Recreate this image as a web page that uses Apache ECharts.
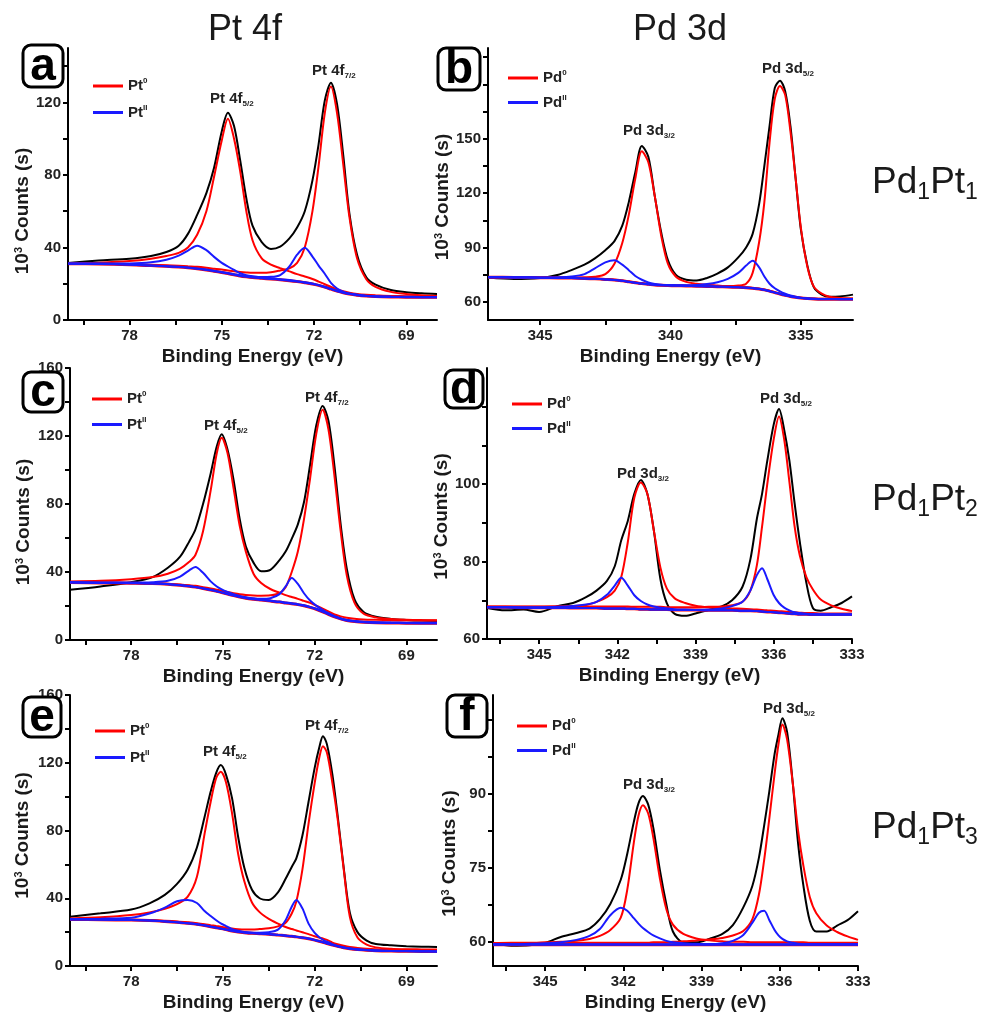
<!DOCTYPE html>
<html><head><meta charset="utf-8">
<script src="https://cdn.jsdelivr.net/npm/echarts@6/dist/echarts.min.js"></script>
<style>html,body{margin:0;padding:0;background:#fff}#c{width:987px;height:1013px}</style>
</head><body><div id="c"></div>
<script>
// ---------- Panel a : Pt 4f, Pd1Pt1 ----------
const aX      = [80,79,78,77.3,76.8,76.4,76.1,75.8,75.5,75.25,75.0,74.8,74.6,74.4,74.2,74.0,73.7,73.4,73.1,72.8,72.55,72.3,72.05,71.85,71.65,71.45,71.25,71.05,70.85,70.6,70.3,70.0,69.5,69.0,68.5,68.0];
const aBlack  = [31.5,32.8,33.8,35.3,37.5,41,47.5,58,70,84,104,114.3,107,88,67,52,43,39.2,40.5,45,51,60,77,97,121,130.9,119,91,59,36,23.5,19.5,16.5,15.3,14.7,14.3];
const aRed1   = [31.2,31.6,32.5,33.8,35.3,37,40,47,60,79,99,111,100,82,60,44,34,30.5,28.6,26.8,25.3,24,22.6,21.2,19.7,18.3,16.9,15.9,15.1,14.4,13.9,13.6,13.3,13.1,13.0,12.9];
const aRed2   = [31.1,31.0,30.8,30.5,30.2,29.9,29.6,29.3,28.8,28.3,27.8,27.3,26.9,26.5,26.2,26.0,26.0,26.3,27.3,28.5,31.5,40,60,85,114,128.7,114,86,57,34,22.5,18.3,15.5,14.3,13.6,13.3];
const aBlue1  = [31.1,31.1,31.2,31.8,33.2,35.5,38.3,41,38.5,34.8,31.5,29.5,27.6,25.8,24.7,24.1,23.5,23.0,22.5,22.0,21.4,20.8,20.1,19.3,18.3,17.2,16.1,15.2,14.5,13.9,13.4,13.1,12.9,12.8,12.7,12.7];
const aBlue2  = [31.1,31.0,30.6,30.1,29.7,29.3,28.9,28.4,27.8,27.1,26.5,25.9,25.3,24.7,24.2,23.9,23.7,23.8,24.8,29.5,36,39.8,35,30,25.5,20.5,17.4,15.6,14.6,13.9,13.3,13.0,12.8,12.7,12.6,12.6];
const aBg     = [31.0,30.9,30.5,30.0,29.6,29.2,28.8,28.3,27.6,26.9,26.2,25.6,25.0,24.3,23.8,23.4,23.0,22.6,22.2,21.7,21.2,20.6,19.9,19.1,18.1,17.0,15.9,15.0,14.3,13.7,13.2,12.9,12.7,12.6,12.5,12.5];

// ---------- Panel b : Pd 3d, Pd1Pt1 ----------
const bX      = [347,346,345,344.3,343.8,343.3,342.9,342.5,342.15,341.85,341.6,341.35,341.1,340.85,340.6,340.35,340.1,339.8,339.4,339.0,338.6,338.2,337.8,337.4,337.1,336.85,336.6,336.4,336.2,336.0,335.8,335.6,335.4,335.2,335.0,334.75,334.5,334.2,333.9,333.5,333.0];
const bBlack  = [73.4,72.6,73.2,75,77.5,80.5,84,88.5,93.5,102,115,131.5,146,140,118,97.8,83,75,72.2,71.8,73.2,75.6,79,84.5,90,97.5,114,135,157,178,182,176,157,128,100,80,68,64,62.8,63,64];
const bRed1   = [73.6,73.6,73.5,73.5,73.5,73.6,73.9,75.3,81,92.5,108,128,143,137,118,96,81,74,71,70,69.4,69,68.6,68.3,68,67.7,67.3,66.8,66.1,65.3,64.5,63.8,63.2,62.7,62.3,62,61.8,61.7,61.7,61.7,61.7];
const bRed2   = [73.6,73.5,73.4,73.3,73.2,73.0,72.8,72.5,72.2,71.7,71.2,70.7,70.2,69.8,69.4,69.2,69.1,69.0,68.9,68.8,68.7,68.7,68.7,69.0,70.0,76,93,115,148,172,179,174,154,128,101,79.4,68.3,64.5,62.8,62.2,61.8];
const bBlue1  = [73.6,73.6,73.5,73.6,74.0,75.3,78.5,81.8,83,80.5,77.5,74.3,72.2,70.7,69.9,69.5,69.3,69.1,68.9,68.7,68.6,68.5,68.3,68.1,67.9,67.6,67.2,66.7,66.0,65.2,64.4,63.7,63.1,62.6,62.2,61.9,61.7,61.6,61.6,61.6,61.6];
const bBlue2  = [73.6,73.5,73.3,73.2,73.1,72.9,72.7,72.4,72.1,71.6,71.1,70.6,70.1,69.7,69.4,69.2,69.1,69.1,69.1,69.3,69.8,70.8,72.7,76,80,82.7,79,74,70,67.5,65.8,64.5,63.5,62.8,62.3,61.9,61.7,61.6,61.6,61.5,61.5];
const bBg     = [73.6,73.5,73.3,73.2,73.1,72.9,72.7,72.4,72.1,71.6,71.1,70.6,70.1,69.7,69.3,69.1,69.0,68.9,68.8,68.6,68.5,68.4,68.2,68.0,67.8,67.5,67.1,66.6,65.9,65.1,64.3,63.6,63.0,62.5,62.1,61.8,61.6,61.5,61.5,61.5,61.5];

// ---------- Panel c : Pt 4f, Pd1Pt2 ----------
const cX      = [80,79,78,77.3,76.8,76.4,76.1,75.9,75.65,75.4,75.2,75.04,74.85,74.65,74.45,74.25,74.0,73.75,73.45,73.15,72.95,72.75,72.55,72.35,72.15,71.95,71.74,71.55,71.35,71.15,70.95,70.7,70.4,70.0,69.5,69.0,68.5,68.0];
const cBlack  = [29.5,31.5,34,37,42.5,49,58,65,80,98,114,121,112,94,71,55,45.5,40.5,41.3,47,52,59.5,68,81,103,126,137.7,129,102,68,42,24,16.5,13.7,12.4,11.8,11.4,11.2];
const cRed1   = [34.4,34.8,35.8,37,39,42,46,50,64,88,110,119,110,89,67,52,39,33.5,30,27.8,26.4,25.3,24.2,23,21.8,20.2,18.5,16.8,15,13.9,13.1,12.5,12.1,11.9,11.7,11.6,11.5,11.5];
const cRed2   = [34.0,33.8,33.6,33.4,33.1,32.6,32.2,31.9,31.1,30.3,29.6,29.0,28.2,27.5,26.9,26.5,26.2,26.1,26.3,27.5,31,40,52,71,95,121,135.4,124,96,64,38,22,15.5,13.3,12.3,11.9,11.7,11.6];
const cBlue1  = [33.9,33.8,33.8,34.0,34.8,37.3,41,42.9,39.5,34.5,31.5,29.8,28.3,27.0,25.9,25.1,24.4,23.8,23.2,22.6,22.1,21.6,21.1,20.4,19.5,18.4,16.9,15.4,13.9,12.7,11.8,11.2,10.7,10.4,10.3,10.2,10.1,10.1];
const cBlue2  = [33.9,33.7,33.5,33.3,32.9,32.3,31.7,31.2,30.4,29.5,28.7,28.0,27.1,26.3,25.5,24.9,24.4,24.2,24.6,27,31.5,36.4,33,27.5,23.2,20.2,17.8,15.8,14,12.7,11.8,11.1,10.6,10.3,10.1,10.0,9.9,9.9];
const cBg     = [33.8,33.6,33.4,33.2,32.8,32.2,31.6,31.1,30.3,29.4,28.6,27.9,27.0,26.1,25.3,24.6,24.0,23.5,22.9,22.3,21.8,21.3,20.8,20.1,19.2,18.1,16.6,15.1,13.6,12.4,11.5,10.9,10.4,10.1,10.0,9.9,9.8,9.8];

// ---------- Panel d : Pd 3d, Pd1Pt2 ----------
const dX      = [347,346.3,345.6,345,344.3,343.7,343.2,342.8,342.4,342.1,341.85,341.6,341.35,341.1,340.85,340.6,340.35,340.1,339.8,339.4,339.0,338.5,338.0,337.6,337.2,336.9,336.65,336.45,336.25,336.0,335.8,335.6,335.4,335.2,335.0,334.75,334.5,334.2,333.8,333.4,333.0];
const dBlack  = [68,67.4,67.6,67,68.5,69.3,70.8,72.5,75,78.8,85.5,90.5,97.5,101.1,97.5,88,75.5,69.2,66.5,66,66.6,67.5,68.4,70,73.5,80.5,91,97.5,106,115.5,119.4,114,106,95,85,74.5,68,67.3,68.2,69.3,71];
const dRed1   = [68.3,68.3,68.3,68.3,68.4,68.5,68.8,69.6,70.8,72.5,76,85,96.5,100.4,97.5,88,78.5,73,70.5,69.3,68.6,68.2,68.0,67.9,67.8,67.7,67.6,67.5,67.4,67.3,67.2,67.1,67.0,66.9,66.8,66.7,66.7,66.6,66.6,66.6,66.6];
const dRed2   = [68.4,68.4,68.4,68.4,68.4,68.4,68.4,68.4,68.4,68.4,68.4,68.4,68.3,68.3,68.3,68.3,68.3,68.2,68.2,68.2,68.2,68.3,68.4,68.7,69.6,72.5,79,89,100,111.7,117.5,111.5,100.5,89,81.5,76,72.8,70.2,68.7,67.8,67.2];
const dBlue1  = [68.2,68.2,68.2,68.2,68.3,68.5,68.9,69.6,71.4,73.8,75.8,73.8,71.3,69.8,68.9,68.4,68.1,67.9,67.7,67.6,67.5,67.4,67.4,67.4,67.3,67.3,67.2,67.1,67.0,66.9,66.8,66.7,66.6,66.5,66.4,66.4,66.3,66.3,66.3,66.3,66.3];
const dBlue2  = [68.2,68.2,68.1,68.1,68.1,68.0,68.0,68.0,67.9,67.9,67.9,67.8,67.8,67.7,67.7,67.6,67.6,67.6,67.5,67.5,67.5,67.6,67.9,68.5,69.6,72.5,76.5,78.3,75.5,71.3,69.3,68.1,67.4,66.9,66.7,66.5,66.4,66.3,66.3,66.3,66.3];
const dBg     = [68.2,68.2,68.1,68.1,68.1,68.0,68.0,68.0,67.9,67.9,67.9,67.8,67.8,67.7,67.7,67.6,67.6,67.6,67.5,67.5,67.5,67.4,67.4,67.4,67.3,67.3,67.2,67.1,67.0,66.9,66.8,66.7,66.6,66.5,66.4,66.4,66.3,66.3,66.3,66.3,66.3];

// ---------- Panel e : Pt 4f, Pd1Pt3 ----------
const eX      = [80,79,78,77.4,76.9,76.5,76.15,75.85,75.6,75.4,75.22,75.07,74.9,74.7,74.5,74.3,74.05,73.8,73.5,73.2,72.95,72.75,72.6,72.4,72.2,72.0,71.85,71.73,71.6,71.42,71.25,71.05,70.85,70.6,70.3,70.0,69.5,69.0,68.5,68.0];
const eBlack  = [29.1,31.1,33.3,37,42,48.5,57,70,88,103,114,118.6,113,99,76,58,45,40,39,43.5,51.5,58.5,63.5,77,97,117,129,135.7,131,113,89,58,31.5,20,15,13,12.2,11.7,11.4,11.2];
const eRed1   = [28.1,28.8,30.1,31.6,33.8,36.5,41,52.7,78,97,111,114.7,108.5,90,66,50,37.5,31.8,27.8,25,23,21.8,21,19.9,18.8,17.6,16.8,16.2,15.4,13.8,12.8,11.9,11.2,10.7,10.2,9.9,9.7,9.6,9.4,9.4];
const eRed2   = [27.6,27.5,27.3,27.1,26.7,26.3,25.8,25.3,24.7,24.1,23.6,23.2,22.7,22.1,21.7,21.5,21.5,21.8,22.3,23.4,25.5,31,38,57,84,108,123,129.8,126,108,87,57,29,16.8,12.6,11,10.2,9.9,9.8,9.7];
const eBlue1  = [27.6,27.9,28.5,31,34.5,38.2,39,37.2,32.5,29.5,27,25.2,23.6,21.8,20.8,20.1,19.6,19.3,18.9,18.4,18.0,17.6,17.3,16.8,16.2,15.4,14.7,14.1,13.4,12.5,11.7,10.9,10.3,9.8,9.4,9.1,8.9,8.8,8.7,8.6];
const eBlue2  = [27.6,27.4,27.2,26.9,26.4,25.9,25.3,24.7,24.0,23.3,22.7,22.2,21.6,20.9,20.3,20.0,19.7,19.7,20.0,21.5,27,35,39,34,25,19.5,17,15.5,14.3,12.9,11.9,11.0,10.4,9.9,9.4,9.1,8.9,8.8,8.7,8.6];
const eBg     = [27.5,27.3,27.1,26.8,26.3,25.8,25.2,24.6,23.9,23.2,22.6,22.1,21.5,20.7,20.1,19.7,19.3,19.1,18.8,18.3,17.9,17.5,17.2,16.7,16.1,15.3,14.6,14.0,13.3,12.4,11.6,10.8,10.2,9.7,9.3,9.0,8.8,8.7,8.6,8.5];

// ---------- Panel f : Pd 3d, Pd1Pt3 ----------
const fX      = [347,346.3,345.6,345,344.4,343.8,343.3,342.9,342.5,342.1,341.85,341.6,341.42,341.25,341.05,340.85,340.6,340.35,340.1,339.7,339.2,338.7,338.2,337.8,337.4,337.05,336.8,336.6,336.4,336.2,336.05,335.9,335.72,335.5,335.3,335.1,334.85,334.6,334.2,333.8,333.4,333.0];
const fBlack  = [59.6,59.1,59.2,59.7,60.9,61.7,62.6,64.5,67.6,72.5,77.8,84.2,88,89.5,87.8,83,74.5,67.5,62,59.8,59.8,60.5,61.5,63.3,66.9,71.3,77,83.5,90.5,98,102,105.3,102.5,92,80,71.5,64.2,62,62,63.2,64.3,66.1];
const fRed1   = [59.6,59.7,59.7,59.8,59.9,60.1,60.5,61.1,62.3,64.8,70.5,80,85.5,87.6,86,81,72.8,66.5,63.4,61.5,60.6,60.2,60.0,59.9,59.9,59.8,59.8,59.8,59.8,59.8,59.8,59.8,59.8,59.8,59.8,59.8,59.7,59.7,59.7,59.7,59.7,59.7];
const fRed2   = [59.6,59.6,59.6,59.6,59.6,59.7,59.7,59.7,59.7,59.7,59.7,59.7,59.7,59.7,59.7,59.8,59.8,59.8,59.9,60.0,60.2,60.4,60.7,61.2,62.1,64.5,69.5,76.5,85,94,100,104,101,92,82.5,75.5,69,65.7,63.2,61.9,61.0,60.3];
const fBlue1  = [59.4,59.4,59.5,59.6,59.8,60.3,61.1,62.5,65.3,66.8,66.2,64.7,63.6,62.7,61.9,61.2,60.6,60.1,59.8,59.6,59.5,59.4,59.4,59.4,59.4,59.4,59.4,59.4,59.4,59.4,59.4,59.4,59.4,59.4,59.4,59.4,59.4,59.4,59.4,59.4,59.4,59.4];
const fBlue2  = [59.4,59.4,59.4,59.4,59.4,59.4,59.4,59.4,59.4,59.4,59.4,59.4,59.4,59.4,59.4,59.4,59.4,59.4,59.4,59.4,59.4,59.4,59.6,60.1,61.3,63.8,65.8,66.2,64.3,62.3,61.2,60.5,60.0,59.7,59.5,59.4,59.4,59.4,59.4,59.4,59.4,59.4];
const fBg     = [59.3,59.3,59.3,59.3,59.3,59.3,59.3,59.3,59.3,59.3,59.3,59.3,59.3,59.3,59.3,59.3,59.3,59.3,59.3,59.3,59.3,59.3,59.3,59.3,59.3,59.3,59.3,59.3,59.3,59.3,59.3,59.3,59.3,59.3,59.3,59.3,59.3,59.3,59.3,59.3,59.3,59.3];

// ---------- tick labels ----------
const ptXLabels = [78,75,72,69];
const ptXTicks  = [79.5,78,76.5,75,73.5,72,70.5,69];
const pdBXLabels = [345,340,335];
const pdBXTicks  = [345,342.5,340,337.5,335];
const pdXLabels = [345,342,339,336,333];
const pdXTicks  = [346.5,345,343.5,342,340.5,339,337.5,336,334.5,333];
const aYLabels = [0,40,80,120];           const aYTicks = [0,20,40,60,80,100,120,140];
const bYLabels = [60,90,120,150];         const bYTicks = [60,75,90,105,120,135,150,165,180,195];
const ceYLabels = [0,40,80,120,160];      const ceYTicks = [0,20,40,60,80,100,120,140,160];
const dYLabels = [60,80,100];             const dYTicks = [60,70,80,90,100,110,120];
const fYLabels = [60,75,90];              const fYTicks = [60,67.5,75,82.5,90,97.5,105];

const FONT = '"Liberation Sans", Arial, Helvetica, sans-serif';
const RED = '#ff0000', BLUE = '#1a1aff', BLACK = '#000000', INK = '#1a1a1a';

const panels = [
  {el:'Pt', x:aX, k:aBlack, r1:aRed1, r2:aRed2, b1:aBlue1, b2:aBlue2, bg:aBg,
   grid:{left:68, top:48, width:369, height:272}, xr:[68,80], yr:[0,150],
   xl:ptXLabels, xt:ptXTicks, yl:aYLabels, yt:aYTicks, yGap:33, yShift:27,
   leg:{left:93, top:77, gap:10}},
  {el:'Pd', x:bX, k:bBlack, r1:bRed1, r2:bRed2, b1:bBlue1, b2:bBlue2, bg:bBg,
   grid:{left:488, top:48, width:365, height:272}, xr:[333,347], yr:[50,200],
   xl:pdBXLabels, xt:pdBXTicks, yl:bYLabels, yt:bYTicks, yGap:35, yShift:13,
   leg:{left:508, top:69, gap:8}},
  {el:'Pt', x:cX, k:cBlack, r1:cRed1, r2:cRed2, b1:cBlue1, b2:cBlue2, bg:cBg,
   grid:{left:70, top:368, width:367, height:272}, xr:[68,80], yr:[0,160],
   xl:ptXLabels, xt:ptXTicks, yl:ceYLabels, yt:ceYTicks, yGap:37, yShift:18,
   leg:{left:92, top:390, gap:9}},
  {el:'Pd', x:dX, k:dBlack, r1:dRed1, r2:dRed2, b1:dBlue1, b2:dBlue2, bg:dBg,
   grid:{left:487, top:368, width:365, height:271}, xr:[333,347], yr:[60,130],
   xl:pdXLabels, xt:pdXTicks, yl:dYLabels, yt:dYTicks, yGap:34, yShift:13,
   leg:{left:512, top:395, gap:8}},
  {el:'Pt', x:eX, k:eBlack, r1:eRed1, r2:eRed2, b1:eBlue1, b2:eBlue2, bg:eBg,
   grid:{left:70, top:695, width:367, height:271}, xr:[68,80], yr:[0,160],
   xl:ptXLabels, xt:ptXTicks, yl:ceYLabels, yt:ceYTicks, yGap:38, yShift:5,
   leg:{left:95, top:722, gap:10}},
  {el:'Pd', x:fX, k:fBlack, r1:fRed1, r2:fRed2, b1:fBlue1, b2:fBlue2, bg:fBg,
   grid:{left:493, top:695, width:365, height:271}, xr:[333,347], yr:[55,110],
   xl:pdXLabels, xt:pdXTicks, yl:fYLabels, yt:fYTicks, yGap:34, yShift:23,
   leg:{left:517, top:717, gap:8}}
];

const pairs = (xs, ys) => xs.map((x, i) => [x, ys[i]]);
const axisLine = {show:true, onZero:false, lineStyle:{color:BLACK, width:2}};
const labelStyle = {fontFamily:FONT, fontSize:15, fontWeight:'bold', color:'#222'};

const grids = [], xAxes = [], yAxes = [], series = [], legends = [];
panels.forEach((p, i) => {
  grids.push(Object.assign({containLabel:false}, p.grid));
  xAxes.push({
    gridIndex:i, type:'value', inverse:true, min:p.xr[0], max:p.xr[1],
    axisLine, splitLine:{show:false},
    axisTick:{show:true, inside:false, length:5, customValues:p.xt, lineStyle:{color:BLACK, width:2}},
    axisLabel:Object.assign({customValues:p.xl, margin:8}, labelStyle),
    name:'Binding Energy (eV)', nameLocation:'middle', nameGap:27,
    nameTextStyle:{fontFamily:FONT, fontSize:19, fontWeight:'bold', color:INK}
  });
  yAxes.push({
    gridIndex:i, type:'value', min:p.yr[0], max:p.yr[1],
    axisLine, splitLine:{show:false},
    axisTick:{show:true, inside:false, length:5, customValues:p.yt, lineStyle:{color:BLACK, width:2}},
    axisLabel:Object.assign({customValues:p.yl, margin:7}, labelStyle),
    name:'{b|10}{p|3}{b| Counts (s)}', nameLocation:'middle', nameGap:p.yGap,
    nameTextStyle:{padding:[0, 2*p.yShift, 0, 0], rich:{
      b:{fontFamily:FONT, fontSize:19, fontWeight:'bold', color:INK},
      p:{fontFamily:FONT, fontSize:11, fontWeight:'bold', color:INK, verticalAlign:'top'}
    }}
  });
  const base = {type:'line', xAxisIndex:i, yAxisIndex:i, symbol:'none', showSymbol:false,
                smooth:0.3, animation:false, silent:true};
  const n0 = p.el + '0', n2 = p.el + 'II';
  series.push(Object.assign({}, base, {name:'data'+i, data:pairs(p.x, p.k), lineStyle:{color:BLACK, width:2}, z:2}));
  series.push(Object.assign({}, base, {name:n0, data:pairs(p.x, p.r1), lineStyle:{color:RED, width:2}, itemStyle:{color:RED}, z:3}));
  series.push(Object.assign({}, base, {name:n0, data:pairs(p.x, p.r2), lineStyle:{color:RED, width:2}, itemStyle:{color:RED}, z:3}));
  series.push(Object.assign({}, base, {name:n2, data:pairs(p.x, p.b1), lineStyle:{color:BLUE, width:2}, itemStyle:{color:BLUE}, z:4}));
  series.push(Object.assign({}, base, {name:n2, data:pairs(p.x, p.b2), lineStyle:{color:BLUE, width:2}, itemStyle:{color:BLUE}, z:4}));
  series.push(Object.assign({}, base, {name:'bgR'+i, data:pairs(p.x, p.bg), lineStyle:{color:RED, width:3}, z:3}));
  series.push(Object.assign({}, base, {name:'bg'+i, data:pairs(p.x, p.bg), lineStyle:{color:BLUE, width:2}, z:5}));
  legends.push({
    orient:'vertical', left:p.leg.left, top:p.leg.top, padding:0,
    icon:'rect', itemWidth:30, itemHeight:3, itemGap:p.leg.gap,
    data:[n0, n2], selectedMode:false,
    formatter:(name) => '{m|' + name.slice(0,2) + '}{s|' + name.slice(2) + '}',
    textStyle:{rich:{
      m:{fontFamily:FONT, fontSize:15, fontWeight:'bold', color:'#222', lineHeight:18},
      s:{fontFamily:FONT, fontSize:8, fontWeight:'bold', color:'#222', verticalAlign:'top', lineHeight:10}
    }}
  });
});

// ---------- text decorations ----------
const txt = (x, y, text, rich, opts) => ({type:'text', x, y, z:100,
  style:Object.assign({text, rich, fill:INK, fontFamily:FONT, align:'left', verticalAlign:'middle'}, opts||{})});
const peakRich = {m:{fontSize:15, fontWeight:'bold', fontFamily:FONT, fill:'#222', lineHeight:18},
                  s:{fontSize:8, fontWeight:'bold', fontFamily:FONT, fill:'#222', verticalAlign:'bottom', lineHeight:10}};
const rowRich = {m:{fontSize:37, fontFamily:FONT, fill:INK, lineHeight:42},
                 s:{fontSize:23, fontFamily:FONT, fill:INK, verticalAlign:'bottom', lineHeight:26}};
const box = (x, y, w, h, letter) => ({type:'group', z:100, children:[
  {type:'rect', shape:{x, y, width:w, height:h, r:8}, style:{fill:'#fff', stroke:BLACK, lineWidth:3}, z:100},
  {type:'text', x:x + w/2, y:y + h/2 + 1, z:101, style:{text:letter, fontSize:46, fontWeight:'bold', fontFamily:FONT, fill:BLACK, align:'center', verticalAlign:'middle'}}
]});

const graphics = [
  {type:'text', x:245, y:30, z:100, style:{text:'Pt 4f', fontSize:36, fontFamily:FONT, fill:INK, align:'center', verticalAlign:'middle'}},
  {type:'text', x:680, y:30, z:100, style:{text:'Pd 3d', fontSize:36, fontFamily:FONT, fill:INK, align:'center', verticalAlign:'middle'}},
  txt(925, 183, '{m|Pd}{s|1}{m|Pt}{s|1}', rowRich, {align:'center'}),
  txt(925, 500, '{m|Pd}{s|1}{m|Pt}{s|2}', rowRich, {align:'center'}),
  txt(925, 828, '{m|Pd}{s|1}{m|Pt}{s|3}', rowRich, {align:'center'}),
  txt(210, 99, '{m|Pt 4f}{s|5/2}', peakRich), txt(312, 71, '{m|Pt 4f}{s|7/2}', peakRich),
  txt(623, 131, '{m|Pd 3d}{s|3/2}', peakRich), txt(762, 69, '{m|Pd 3d}{s|5/2}', peakRich),
  txt(204, 426, '{m|Pt 4f}{s|5/2}', peakRich), txt(305, 398, '{m|Pt 4f}{s|7/2}', peakRich),
  txt(617, 474, '{m|Pd 3d}{s|3/2}', peakRich), txt(760, 399, '{m|Pd 3d}{s|5/2}', peakRich),
  txt(203, 752, '{m|Pt 4f}{s|5/2}', peakRich), txt(305, 726, '{m|Pt 4f}{s|7/2}', peakRich),
  txt(623, 785, '{m|Pd 3d}{s|3/2}', peakRich), txt(763, 709, '{m|Pd 3d}{s|5/2}', peakRich),
  box(23, 45, 40, 42, 'a'), box(438, 48, 42, 42, 'b'),
  box(23, 372, 40, 40, 'c'), box(445, 370, 38, 38, 'd'),
  box(23, 697, 38, 40, 'e'), box(447, 695, 40, 42, 'f')
];

const chart = echarts.init(document.getElementById('c'), null, {renderer:'canvas'});
chart.setOption({
  backgroundColor:'#fff', animation:false,
  grid:grids, xAxis:xAxes, yAxis:yAxes, series, legend:legends, graphic:graphics
});
</script></body></html>
